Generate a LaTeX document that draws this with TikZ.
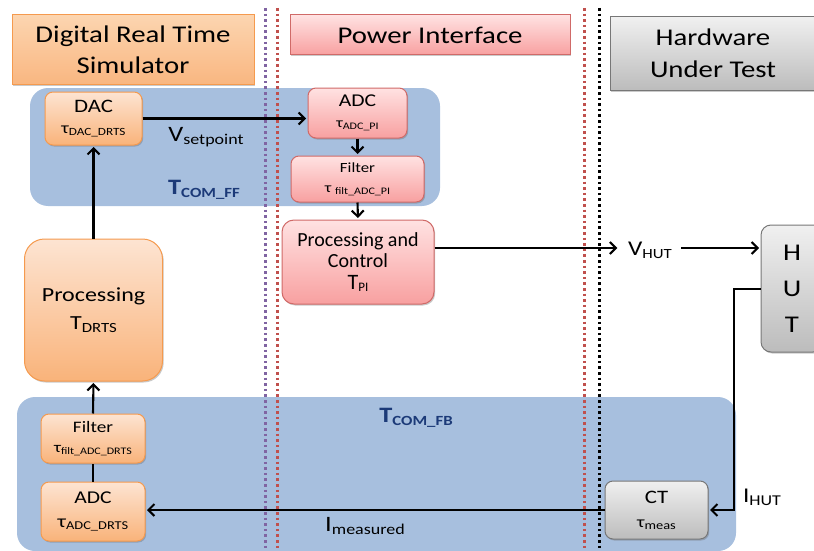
\documentclass[tikz,border=0pt]{standalone}
\usepackage{fontspec}
\setmainfont{Carlito}[FakeStretch=1.2]
\newfontfamily\pcfont{Carlito}[FakeStretch=1.0]
\usetikzlibrary{arrows.meta,shadows}
\definecolor{orTop}{HTML}{FDE4D2}
\definecolor{orBot}{HTML}{F9B37A}
\definecolor{orBorder}{HTML}{F59A4E}
\definecolor{tOrTop}{HTML}{FCD5B0}
\definecolor{tOrBot}{HTML}{F9B680}
\definecolor{pkTop}{HTML}{FFE2E2}
\definecolor{pkBot}{HTML}{F8A0A0}
\definecolor{pkBorder}{HTML}{D06A68}
\definecolor{gyTop}{HTML}{F0F0F0}
\definecolor{gyBot}{HTML}{BCBCBC}
\definecolor{gyBorder}{HTML}{777777}
\definecolor{regBlue}{HTML}{A7BFDE}
\definecolor{darkBlue}{HTML}{1C3A78}
\definecolor{lnPurple}{HTML}{8064A2}
\definecolor{lnRed}{HTML}{C0504D}
\newcommand\fs[2]{\fontsize{#1}{#2}\selectfont}
\newcommand\subt[2]{\raisebox{-0.3\height}{\fs{#1}{#1}#2}}
\begin{document}
\begin{tikzpicture}[x=1pt,y=-1pt,
  shad/.style={drop shadow={shadow xshift=1.2pt,shadow yshift=-1.5pt,opacity=0.35,fill=black!60}},
  box/.style={draw,line width=1pt,rounded corners=8pt,align=center,inner sep=0pt,shad},
  orbox/.style={box,draw=orBorder,top color=orTop,bottom color=orBot},
  pkbox/.style={box,draw=pkBorder,top color=pkTop,bottom color=pkBot},
  gybox/.style={box,draw=gyBorder,top color=gyTop,bottom color=gyBot},
  titlebox/.style={draw,line width=1pt,align=center,inner sep=0pt,shad},
  region/.style={fill=regBlue,rounded corners=18pt},
  dotv/.style={line width=3pt,dash pattern=on 2.6pt off 3pt},
  arr/.style={line width=2.1pt,shorten >=1.5pt,-{Straight Barb[length=6pt,width=12pt]}},
  ln/.style={line width=2.1pt},
  lbl/.style={inner sep=0pt,align=center}]
\useasboundingbox (0,0) rectangle (814,551);
\clip (0,0) rectangle (814,551);

% regions
\path[region] (30,88) rectangle (440,206);
\path[region] (17,397) rectangle (736,551);

% titles
\node[titlebox,draw=orBorder,top color=tOrTop,bottom color=tOrBot,minimum width=242,minimum height=70,font=\fs{24}{31}] (tDRTS) at (133,50)
  {Digital Real Time\\Simulator};
\node[titlebox,draw=pkBorder,top color=pkTop,bottom color=pkBot,minimum width=280,minimum height=40,font=\fs{24}{28}] (tPI) at (430,35)
  {Power Interface};
\node[titlebox,draw=gyBorder,top color=gyTop,bottom color=gyBot,minimum width=206,minimum height=73,font=\fs{24}{32}] (tHUT) at (713,53.5)
  {Hardware\\Under Test};

% boxes
\node[orbox,minimum width=97,minimum height=53,font=\fs{19}{20}] (DAC) at (93.5,118.5)
  {DAC\\[1pt]{\fs{16}{18}τ\subt{11}{DAC\_DRTS}}};
\node[pkbox,minimum width=99,minimum height=50,font=\fs{18}{20}] (ADCPI) at (357.5,113)
  {ADC\\[1pt]{\fs{14}{16}τ\subt{10}{ADC\_PI}}};
\node[pkbox,minimum width=133,minimum height=46,font=\fs{14}{16}] (FPI) at (357.5,179)
  {Filter\\[4pt]{τ \subt{10}{filt\_ADC\_PI}}};
\node[pkbox,rounded corners=12pt,minimum width=152,minimum height=84,font=\pcfont\fs{20}{21.5}] (PC) at (358,262)
  {Processing and\\Control\\{\fs{22}{22}T\subt{13}{PI}}};
\node[orbox,rounded corners=20pt,minimum width=138,minimum height=142,font=\fs{20}{28}] (PDRTS) at (93.5,310)
  {Processing\\T\subt{14}{DRTS}};
\node[orbox,minimum width=104,minimum height=49,font=\fs{16}{18}] (FDRTS) at (93,438.5)
  {Filter\\[2pt]{\fs{15}{16}τ\subt{10}{filt\_ADC\_DRTS}}};
\node[orbox,minimum width=104,minimum height=59,font=\fs{18}{20}] (ADRTS) at (93,511.5)
  {ADC\\[4pt]{\fs{18}{18}τ\subt{12}{ADC\_DRTS}}};
\node[gybox,minimum width=103,minimum height=58,font=\fs{19}{20}] (CT) at (656.5,510)
  {CT\\[4pt]{\fs{16}{16}τ\subt{12}{meas}}};
\node[gybox,rounded corners=10pt,minimum width=62,minimum height=127,font=\fs{24}{36}] (HUT) at (792,288.5)
  {H\\U\\T};

% labels
\node[lbl,font=\fs{22}{26}] (Vset) at (206,137) {V\subt{15}{setpoint}};
\node[lbl,text=darkBlue,font=\fs{22}{26}\bfseries] (TFF) at (204,190) {T\subt{14}{COM\_FF}};
\node[lbl,text=darkBlue,font=\fs{22}{26}\bfseries] (TFB) at (416,418) {T\subt{14}{COM\_FB}};
\node[lbl,font=\fs{22}{26}] (Imeas) at (365,526) {I\subt{15}{measured}};
\node[lbl,font=\fs{21}{24}] (IHUT) at (762,497) {I\subt{15}{HUT}};
\node[lbl,inner xsep=9pt,font=\fs{21}{24}] (VHUT) at (650,250) {V\subt{14}{HUT}};

\coordinate (vh) at (0,248);
\coordinate (hc) at (734,289);

% connectors
\draw[arr] (DAC.east) -- (DAC.east -| ADCPI.west);
\draw[arr] (ADCPI.south) -- (FPI.north);
\draw[arr] (FPI.south) -- (PC.north);
\draw[arr] (PDRTS.north) -- (DAC.south);
\draw[arr] (FDRTS.north) -- (PDRTS.south);
\draw[ln] (ADRTS.north) -- (FDRTS.south);
\draw[arr] (CT.west) -- (CT.west -| ADRTS.east);
\draw[arr] (PC.east |- vh) -- (VHUT.west |- vh);
\draw[arr] (VHUT.east |- vh) -- (HUT.west |- vh);
\draw[arr] (HUT.west |- hc) -- (hc) |- (CT.east);

% dotted separators (drawn over the connectors, as in the reference)
\draw[dotv,lnPurple] (265.5,8) -- (265.5,551);
\draw[dotv,lnRed] (277,8) -- (277,551);
\draw[dotv,lnRed] (584,8) -- (584,551);
\draw[dotv,black] (599,8) -- (599,551);
\end{tikzpicture}
\end{document}
